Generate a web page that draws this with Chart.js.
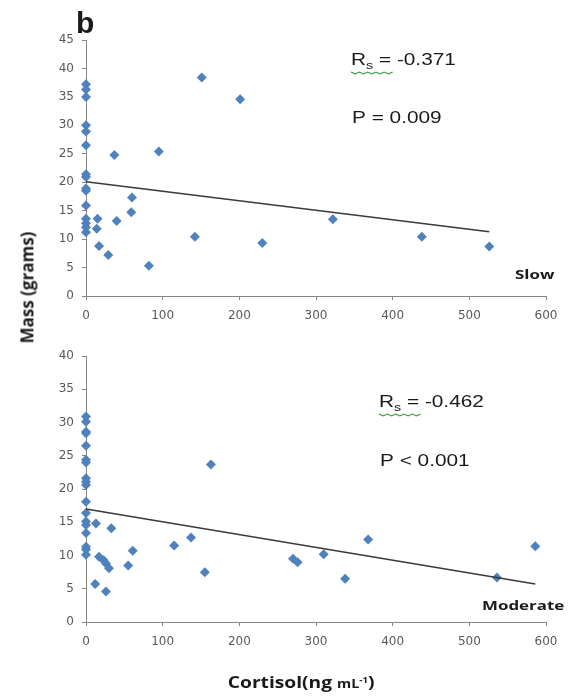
<!DOCTYPE html>
<html>
<head>
<meta charset="utf-8">
<script src="https://cdn.jsdelivr.net/npm/chart.js@4.4.1/dist/chart.umd.min.js"></script>
<style>
    body { margin: 0; background: #fff; width: 587px; height: 700px; overflow: hidden; position: relative; }
    .box { position: absolute; left: 0; width: 587px; }
    .lbl { position: absolute; font-family: "Open Sans", sans-serif; font-weight: bold; color: #1a1a1a; white-space: nowrap; line-height: 1; }
</style>
</head>
<body>
<div class="box" style="top:0;height:320px"><canvas id="graph1"></canvas></div>
<div class="box" style="top:320px;height:380px"><canvas id="graph2"></canvas></div>

<div class="lbl" style="left:76px;top:8px;font-family:'Liberation Sans';font-size:30px;">b</div>
<div class="lbl" id="massLbl" style="font-size:17px;">Mass (grams)</div>
<div class="lbl" id="cortLbl" style="font-size:16px;">Cortisol(ng <span style="font-size:12px">mL<sup style="font-size:8px">-1</sup></span>)</div>

<script>
// Slow group (top panel)
const slowCortisol = [0, 0, 0, 0, 0, 0, 0, 0, 0, 0, 0, 0, 0, 0, 0, 15, 14, 17, 29, 37, 40, 59, 60, 95, 82, 142, 151, 201, 230, 322, 438, 526];
const slowMass = [37.2, 36.3, 35.0, 30.0, 28.9, 26.5, 21.4, 20.9, 18.9, 18.5, 15.9, 13.6, 12.8, 12.1, 11.2, 13.6, 11.8, 8.8, 7.2, 24.8, 13.2, 14.7, 17.3, 25.4, 5.3, 10.4, 38.4, 34.6, 9.3, 13.5, 10.4, 8.7];
const slowTrendX = [0, 526];
const slowTrendY = [20.1, 11.3];

// Moderate group (bottom panel)
const modCortisol = [0, 0, 0, 0, 0, 0, 0, 0, 0, 0, 0, 0, 0, 0, 0, 0, 0, 0, 13, 12, 17, 23, 26, 30, 26, 33, 55, 61, 115, 137, 155, 163, 270, 276, 310, 338, 368, 536, 586];
const modMass = [30.9, 30.1, 28.6, 28.4, 26.5, 24.4, 24.0, 21.6, 21.1, 20.6, 18.1, 16.4, 15.1, 14.6, 13.4, 11.3, 10.9, 10.1, 14.8, 5.7, 9.8, 9.3, 8.8, 8.1, 4.6, 14.1, 8.5, 10.7, 11.5, 12.7, 7.5, 23.7, 9.5, 9.0, 10.2, 6.5, 12.4, 6.7, 11.4];
const modTrendX = [0, 586];
const modTrendY = [17.0, 5.7];

const xTicks = [0, 100, 200, 300, 400, 500, 600];

const blue = "#4F81BD";
const axisGrey = "#868686";
const tickGrey = "#595959";
const STRETCH = 1.3;

// Centres a label on a point, with an optional css transform
function placeLabel(id, cx, cy, transform) {
    let el = document.getElementById(id);
    el.style.left = (cx - el.offsetWidth / 2) + "px";
    el.style.top = (cy - el.offsetHeight / 2) + "px";
    el.style.transform = transform;
}

placeLabel("massLbl", 27, 287, "rotate(-90deg)");
placeLabel("cortLbl", 301, 682, "scaleX(1.2)");

// Draws the text notes inside each panel (stats and group name)
const notesPlugin = {
    id: "notes",
    afterDraw(chart, args, opts) {
        let ctx = chart.ctx;
        ctx.save();
        ctx.fillStyle = "#1a1a1a";
        ctx.textBaseline = "middle";
        for (let i = 0; i < opts.items.length; i++) {
            let it = opts.items[i];
            ctx.save();
            ctx.translate(it.x, it.y);
            ctx.scale(STRETCH, 1);
            ctx.font = it.font;
            if (it.sub) {
                ctx.fillText("R", 0, 0);
                let w = ctx.measureText("R").width;
                ctx.font = "11px 'Liberation Sans'";
                ctx.fillText(it.sub, w, 5);
                let w2 = ctx.measureText(it.sub).width;
                ctx.font = it.font;
                ctx.fillText(" = " + it.text, w + w2, 0);
                // spell-check style wavy underline
                ctx.strokeStyle = "#3a9a3a";
                ctx.lineWidth = 1;
                ctx.beginPath();
                for (let k = 0; k <= 10; k++) {
                    let px = k * 3.2;
                    let py = 11 + (k % 2 === 0 ? 0 : 2);
                    if (k === 0) ctx.moveTo(px, py); else ctx.lineTo(px, py);
                }
                ctx.stroke();
            } else {
                ctx.fillText(it.text, 0, 0);
            }
            ctx.restore();
        }
        ctx.restore();
    }
};

function toPoints(xs, ys) {
    let pts = [];
    for (let i = 0; i < xs.length; i++) {
        pts.push({ x: xs[i], y: ys[i] });
    }
    return pts;
}

function createGraph(id, xs, ys, tx, ty, yMax, padTop, xHeight, notes) {
    let ctx = document.getElementById(id);
    return new Chart(ctx, {
        type: "scatter",
        data: {
            datasets: [{
                data: toPoints(tx, ty),
                showLine: true,
                borderColor: "#3a3a3a",
                borderWidth: 1.5,
                pointRadius: 0,
                clip: false,
                order: 0
            }, {
                data: toPoints(xs, ys),
                pointStyle: "rectRot",
                pointRadius: 5,
                backgroundColor: blue,
                borderColor: blue,
                borderWidth: 0,
                clip: false,
                order: 1
            }]
        },
        options: {
            responsive: true,
            maintainAspectRatio: false,
            animation: false,
            layout: { padding: { top: padTop, right: 41, left: 0, bottom: 0 } },
            plugins: {
                legend: { display: false },
                tooltip: { enabled: false },
                notes: { items: notes }
            },
            scales: {
                x: {
                    type: "linear",
                    min: 0,
                    max: 600,
                    afterBuildTicks: s => { s.ticks = xTicks.map(v => ({ value: v })); },
                    afterFit: s => { s.height = xHeight; },
                    ticks: { color: tickGrey, padding: 9, maxRotation: 0, font: { family: "DejaVu Sans", size: 12 } },
                    grid: { drawOnChartArea: false, tickLength: 4, color: axisGrey },
                    border: { color: axisGrey }
                },
                y: {
                    min: 0,
                    max: yMax,
                    ticks: { stepSize: 5, color: tickGrey, padding: 8, font: { family: "DejaVu Sans", size: 12 } },
                    afterFit: s => { s.width = 86; },
                    grid: { drawOnChartArea: false, tickLength: 4, color: axisGrey },
                    border: { color: axisGrey }
                }
            }
        },
        plugins: [notesPlugin]
    });
}

createGraph("graph1", slowCortisol, slowMass, slowTrendX, slowTrendY, 45, 40, 24, [
    { text: "-0.371", sub: "s", x: 351, y: 61, font: "16px 'Liberation Sans'" },
    { text: "P = 0.009", x: 352, y: 119, font: "16px 'Liberation Sans'" },
    { text: "Slow", x: 515, y: 275, font: "bold 13px 'Open Sans'" }
]);

createGraph("graph2", modCortisol, modMass, modTrendX, modTrendY, 40, 36, 78, [
    { text: "-0.462", sub: "s", x: 379, y: 83, font: "16px 'Liberation Sans'" },
    { text: "P < 0.001", x: 380, y: 142, font: "16px 'Liberation Sans'" },
    { text: "Moderate", x: 482, y: 286, font: "bold 13px 'Open Sans'" }
]);
</script>
</body>
</html>
